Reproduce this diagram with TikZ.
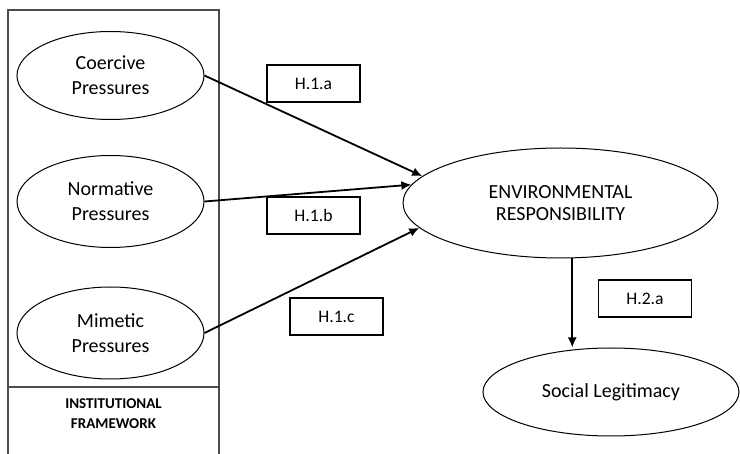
\documentclass[tikz,border=0pt]{standalone}
\usepackage{fontspec}
\setmainfont{Carlito}
\usetikzlibrary{arrows.meta,shapes.geometric}
\begin{document}
\begin{tikzpicture}[x=0.5pt,y=-0.5pt,
  >={Latex[length=5pt,width=4.5pt]},
  factor/.style={draw,ellipse,line width=0.5pt,inner sep=0pt,align=center,
    font=\fontsize{10}{12.5}\selectfont,minimum width=93.5pt,minimum height=44pt},
  hyp/.style={draw,line width=0.6pt,inner sep=0pt,minimum width=46.5pt,
    minimum height=18.5pt,font=\fontsize{8.8}{10}\selectfont},
  link/.style={->,line width=0.9pt}]
\useasboundingbox (0,0) rectangle (740,454);

% institutional frame
\draw[line width=0.6pt,black!70] (8,454) -- (8,10) -- (219,10) -- (219,454);
\draw[line width=0.6pt,black!70] (8,387) -- (219,387);
\node[align=center,font=\fontsize{7.5}{10}\selectfont\bfseries] (frame) at (113.5,414)
  {INSTITUTIONAL\\FRAMEWORK};

% pressures
\node[factor] (coer) at (110.5,75.5) {Coercive\\Pressures};
\node[factor,minimum height=46pt] (norm) at (110.5,201.5) {Normative\\Pressures};
\node[factor,minimum height=46pt] (mime) at (110.5,333) {Mimetic\\Pressures};

% outcomes
\node[factor,minimum width=157.5pt,minimum height=55pt,
  font=\fontsize{10}{11}\selectfont] (env) at (560.5,203)
  {ENVIRONMENTAL\\RESPONSIBILITY};
\node[factor,minimum width=128pt] (legit) at (611,392) {Social Legitimacy};

% hypotheses
\node[hyp] (h1a) at (313.5,83.5) {H.1.a};
\node[hyp] (h1b) at (313.5,215.5) {H.1.b};
\node[hyp] (h1c) at (336.5,316.5) {H.1.c};
\node[hyp] (h2a) at (645,298.5) {H.2.a};

% paths
\draw[link] (coer.east) -- (env.169);
\draw[link] (norm.east) -- (env.173.5);
\draw[link] (mime.east) -- (env.190.5);
\draw[link] (env.-78) -- (legit.north -| env.-78);

\end{tikzpicture}
\end{document}
